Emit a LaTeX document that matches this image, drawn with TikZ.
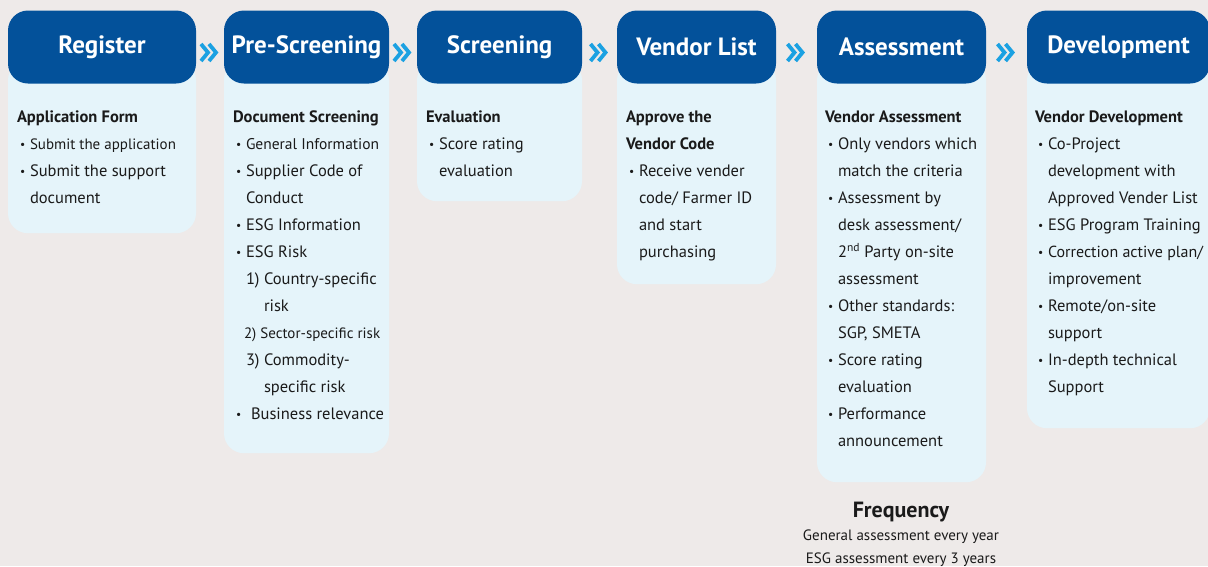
\documentclass[tikz,border=0pt]{standalone}
\usepackage{fontspec}
\setmainfont{PT Sans}
\usetikzlibrary{calc,positioning}
\definecolor{paper}{HTML}{EEEAE9}
\definecolor{hdrblue}{HTML}{03519A}
\definecolor{bodyblue}{HTML}{E5F4FA}
\definecolor{chevblue}{HTML}{1BA1E2}
\definecolor{ink}{HTML}{1A1A1A}
\newcommand{\bl}{\hspace*{3pt}\makebox[10pt][l]{\raisebox{1pt}{\scalebox{0.7}{\textbullet}}}}
\newcommand{\ind}{\hspace*{13pt}}
\newcommand{\smaller}[1]{{\fontsize{15}{27}\selectfont #1}}
\tikzset{
	hdr/.style={fill=hdrblue, rounded corners=20pt, text=white, minimum height=73,
		font=\fontsize{25}{25}\selectfont\bfseries},
	bodybox/.style={fill=bodyblue, rounded corners=20pt, anchor=north},
	bodytext/.style={anchor=north west, inner sep=0pt, align=left, text=ink,
		font=\fontsize{16.5}{27}\selectfont},
	chev/.pic={\draw[chevblue, line width=3.8pt]
		(-9,-8.5) -- (-2,0) -- (-9,8.5)
		(-1,-8.5) -- (6,0) -- (-1,8.5);}
}

\begin{document}
\begin{tikzpicture}[x=1pt, y=-1pt]
	\useasboundingbox[fill=paper] (0,0) rectangle (1208,566);
	
	% bodies first, headers on top
	\node[bodybox, minimum width=188, minimum height=173] (regbody) at (102,60) {};
	\node[bodybox, minimum width=165, minimum height=393] (prebody) at (306.5,60) {};
	\node[bodybox, minimum width=165, minimum height=141] (scrbody) at (499.5,60) {};
	\node[bodybox, minimum width=159, minimum height=224] (venbody) at (696.5,60) {};
	\node[bodybox, minimum width=169, minimum height=422] (assbody) at (901.5,60) {};
	\node[bodybox, minimum width=183, minimum height=368] (devbody) at (1118.5,60) {};
	
	\node[hdr, minimum width=188] (reg) at (102,47) {Register};
	\node[hdr, minimum width=165] (pre) at (306.5,47) {Pre-Screening};
	\node[hdr, minimum width=165] (scr) at (499.5,47) {Screening};
	\node[hdr, minimum width=159] (ven) at (696.5,47) {Vendor List};
	\node[hdr, minimum width=169] (ass) at (901.5,47) {Assessment};
	\node[hdr, minimum width=183] (dev) at (1118.5,47) {Development};
	
	% chevrons between the steps
	\path ($(reg.east)!.5!(pre.west)$) ++(0,5.5) pic {chev};
	\path ($(pre.east)!.5!(scr.west)$) ++(0,5.5) pic {chev};
	\path ($(scr.east)!.5!(ven.west)$) ++(0,5.5) pic {chev};
	\path ($(ven.east)!.5!(ass.west)$) ++(0,5.5) pic {chev};
	\path ($(ass.east)!.5!(dev.west)$) ++(0,5.5) pic {chev};
	
	% texts
	\node[bodytext] (regtxt) at ($(regbody.north west)+(9,51)$) {\textbf{Application Form}\\
		\bl\smaller{Submit the application}\\
		\bl Submit the support\\
		\ind document};
	\node[bodytext] (pretxt) at ($(prebody.north west)+(9,51)$) {\textbf{Document Screening}\\
		\bl{\fontsize{15.5}{27}\selectfont General Information}\\
		\bl Supplier Code of\\
		\ind Conduct\\
		\bl ESG Information\\
		\bl ESG Risk\\
		\ind 1) Country-specific\\
		\hspace*{31pt}risk\\
		\hspace*{11pt}\smaller{2) Sector-specific risk}\\
		\ind 3) Commodity-\\
		\hspace*{31pt}specific risk\\
		\bl\hspace*{5pt}Business relevance};
	\node[bodytext] (scrtxt) at ($(scrbody.north west)+(9,51)$) {\textbf{Evaluation}\\
		\bl Score rating\\
		\ind evaluation};
	\node[bodytext] (ventxt) at ($(venbody.north west)+(9,51)$) {\textbf{Approve the}\\
		\textbf{Vendor Code}\\
		\bl Receive vender\\
		\ind code/ Farmer ID\\
		\ind and start\\
		\ind purchasing};
	\node[bodytext] (asstxt) at ($(assbody.north west)+(8,51)$) {\textbf{Vendor Assessment}\\
		\bl Only vendors which\\
		\ind match the criteria\\
		\bl Assessment by\\
		\ind desk assessment/\\
		\ind 2\textsuperscript{nd} Party on-site\\
		\ind assessment\\
		\bl Other standards:\\
		\ind SGP, SMETA\\
		\bl Score rating\\
		\ind evaluation\\
		\bl Performance\\
		\ind announcement};
	\node[bodytext] (devtxt) at ($(devbody.north west)+(8,51)$) {\textbf{Vendor Development}\\
		\bl Co-Project\\
		\ind development with\\
		\ind Approved Vender List\\
		\bl ESG Program Training\\
		\bl{\fontsize{16}{27}\selectfont Correction active plan/}\\
		\ind improvement\\
		\bl Remote/on-site\\
		\ind support\\
		\bl In-depth technical\\
		\ind Support};
	
	% frequency note
	\node[text=ink, font=\fontsize{22}{22}\selectfont\bfseries] (freq) at (901,512) {Frequency};
	\node[text=ink, inner sep=0pt, align=center, font=\fontsize{15}{23}\selectfont,
		below=18pt of freq.center, anchor=north] (freqtxt)
		{General assessment every year\\ESG assessment every 3 years};
\end{tikzpicture}
\end{document}
